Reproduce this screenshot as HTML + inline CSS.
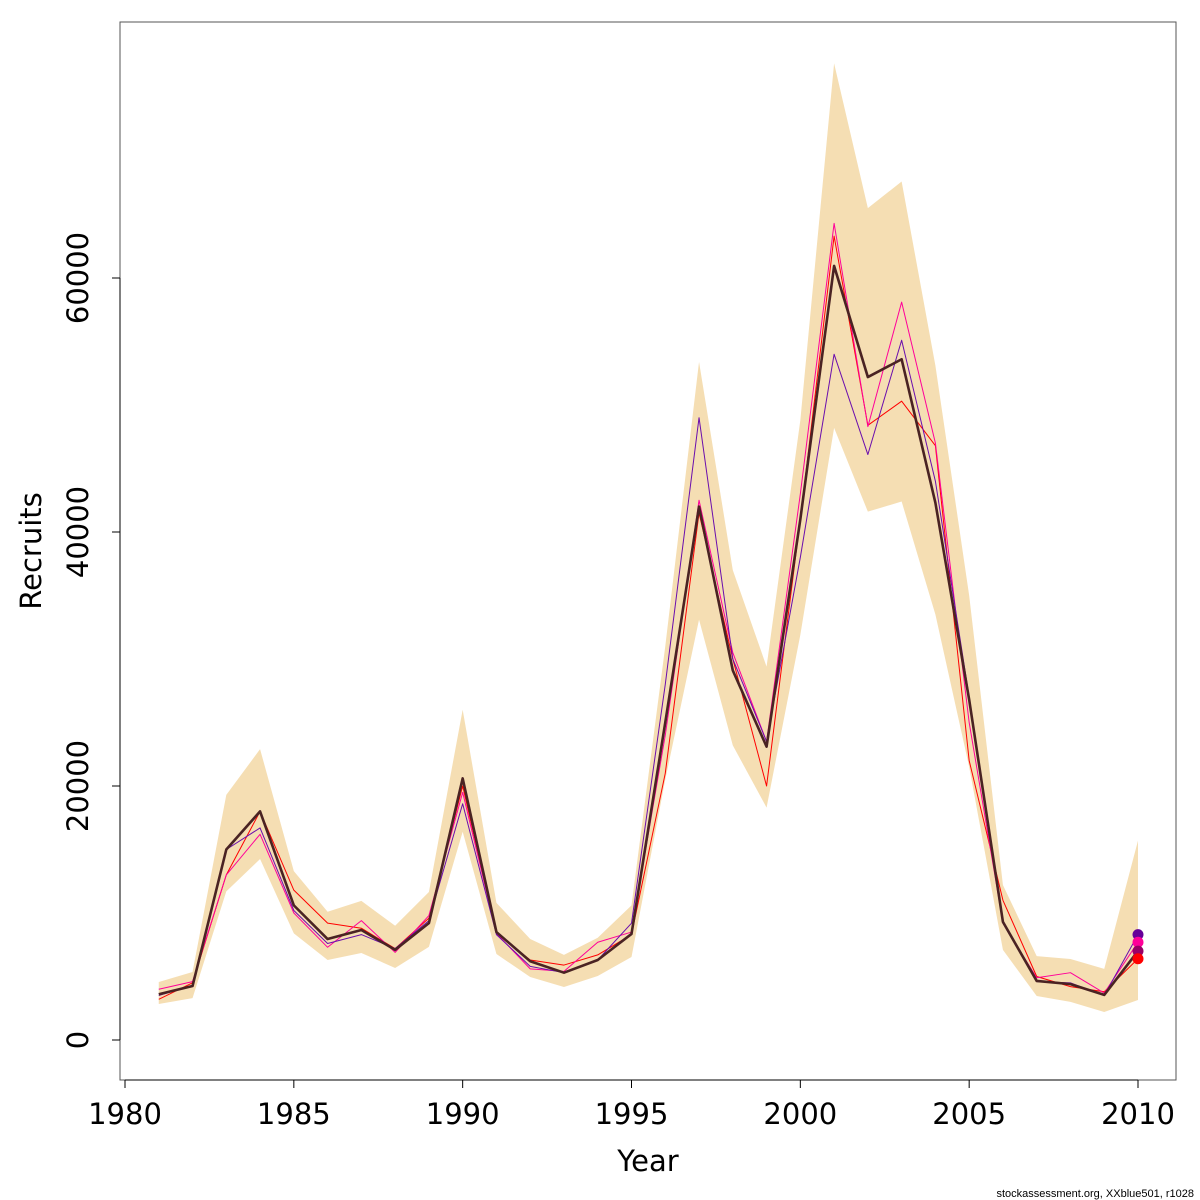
<!DOCTYPE html>
<html><head><meta charset="utf-8"><style>
body{margin:0;background:#fff;}
svg{display:block;font-family:"DejaVu Sans","Liberation Sans",sans-serif;}
</style></head><body>
<svg id="chart" width="1200" height="1200" xmlns="http://www.w3.org/2000/svg"></svg>
<script>
const years=[1981,1982,1983,1984,1985,1986,1987,1988,1989,1990,1991,1992,1993,1994,1995,1996,1997,1998,1999,2000,2001,2002,2003,2004,2005,2006,2007,2008,2009,2010];
const estimate=[3600,4250,15000,18000,10600,7950,8660,7100,9200,20600,8500,6200,5300,6300,8350,25000,42000,29100,23100,41000,60950,52200,53600,42300,26800,9300,4650,4400,3550,7000];
const upper=[4570,5350,19300,22900,13300,10100,10950,9000,11650,26000,10800,7950,6700,8050,10600,31000,53400,37000,29400,48800,76900,65500,67600,53100,35000,12200,6600,6380,5600,15700];
const lower=[2830,3300,11700,14250,8400,6300,6850,5670,7330,16400,6770,4960,4170,5040,6540,20500,33100,23200,18300,31900,48200,41600,42400,33500,21500,7100,3460,3000,2200,3150];
const redRun=[3200,4500,13000,18000,11800,9200,8800,7200,9600,20000,8400,6300,5900,6700,8300,21000,41500,30000,20000,41000,63300,48400,50300,46800,22000,11000,5000,4200,3800,6400];
const pinkRun=[4000,4600,13000,16200,10000,7300,9400,6900,9800,19500,8400,5600,5400,7700,8500,24000,42500,30500,23500,43000,64300,48300,58100,47000,25000,9200,4900,5300,3700,7700];
const purpleRun=[3500,4300,15000,16700,10200,7600,8300,7200,9400,18600,8300,5800,5300,6300,9200,28000,49000,30000,23500,38000,54000,46100,55100,44000,27000,9200,4600,4500,3500,8300];
const xTicks=[1980,1985,1990,1995,2000,2005,2010];
const yTicks=[0,20000,40000,60000];
const endPoints=[8300,7700,7000,6400];
const endColors=["#660099","#ff0099","#990066","#ff0000"];

const NS="http://www.w3.org/2000/svg";
const svg=document.getElementById('chart');
const X=v=>125+(v-1980)*(1138-125)/30;
const Y=v=>1040-v*(1040-278)/60000;
function mk(tag,attrs,parent){const e=document.createElementNS(NS,tag);for(const k in attrs)e.setAttribute(k,attrs[k]);(parent||svg).appendChild(e);return e;}

let pts=years.map((y,i)=>X(y)+','+Y(upper[i])).concat(years.map((y,i)=>X(y)+','+Y(lower[i])).reverse());
const band=mk('polygon',{points:pts.join(' '),fill:'#f5deb3'});



function line(arr,color,w,name){
  const p=mk('polyline',{points:years.map((y,i)=>X(y)+','+Y(arr[i])).join(' '),fill:'none',stroke:color,'stroke-width':w,'stroke-linejoin':'round'});
  
  
}
line(redRun,'#ff0000',1,'retro-line-red');
line(pinkRun,'#ff0099',1,'retro-line-pink');
line(purpleRun,'#6a0dad',1,'retro-line-purple');
line(estimate,'#4a2323',2.6,'estimate-line');

endPoints.forEach((v,i)=>{
  const c=mk('circle',{cx:X(2010),cy:Y(v),r:5.5,fill:endColors[i]});
  
  
});

const box=mk('rect',{x:120,y:22,width:1056,height:1058,fill:'none',stroke:'#555','stroke-width':1});



const xa=mk('line',{x1:X(1980),x2:X(2010),y1:1080,y2:1080,stroke:'#000'});


xTicks.forEach(t=>{
  mk('line',{x1:X(t),x2:X(t),y1:1080,y2:1088,stroke:'#000'});
  const tx=mk('text',{x:X(t),y:1124,'text-anchor':'middle','font-size':29});
  tx.textContent=t;
  
  
});
const ya=mk('line',{x1:120,x2:120,y1:Y(0),y2:Y(60000),stroke:'#000'});


yTicks.forEach(t=>{
  mk('line',{x1:112,x2:120,y1:Y(t),y2:Y(t),stroke:'#000'});
  const tx=mk('text',{x:0,y:0,'text-anchor':'middle','font-size':29,transform:`translate(88,${Y(t)}) rotate(-90)`});
  tx.textContent=t;
  
  
});
const xt=mk('text',{x:648,y:1171,'text-anchor':'middle','font-size':29});
xt.textContent='Year';


const yt=mk('text',{x:0,y:0,'text-anchor':'middle','font-size':29,transform:'translate(41,551) rotate(-90)'});
yt.textContent='Recruits';


const ft=mk('text',{x:1194,y:1197,'text-anchor':'end','font-size':11,'font-family':'Liberation Sans, sans-serif'});
ft.textContent='stockassessment.org, XXblue501, r1028';


</script>
</body></html>
